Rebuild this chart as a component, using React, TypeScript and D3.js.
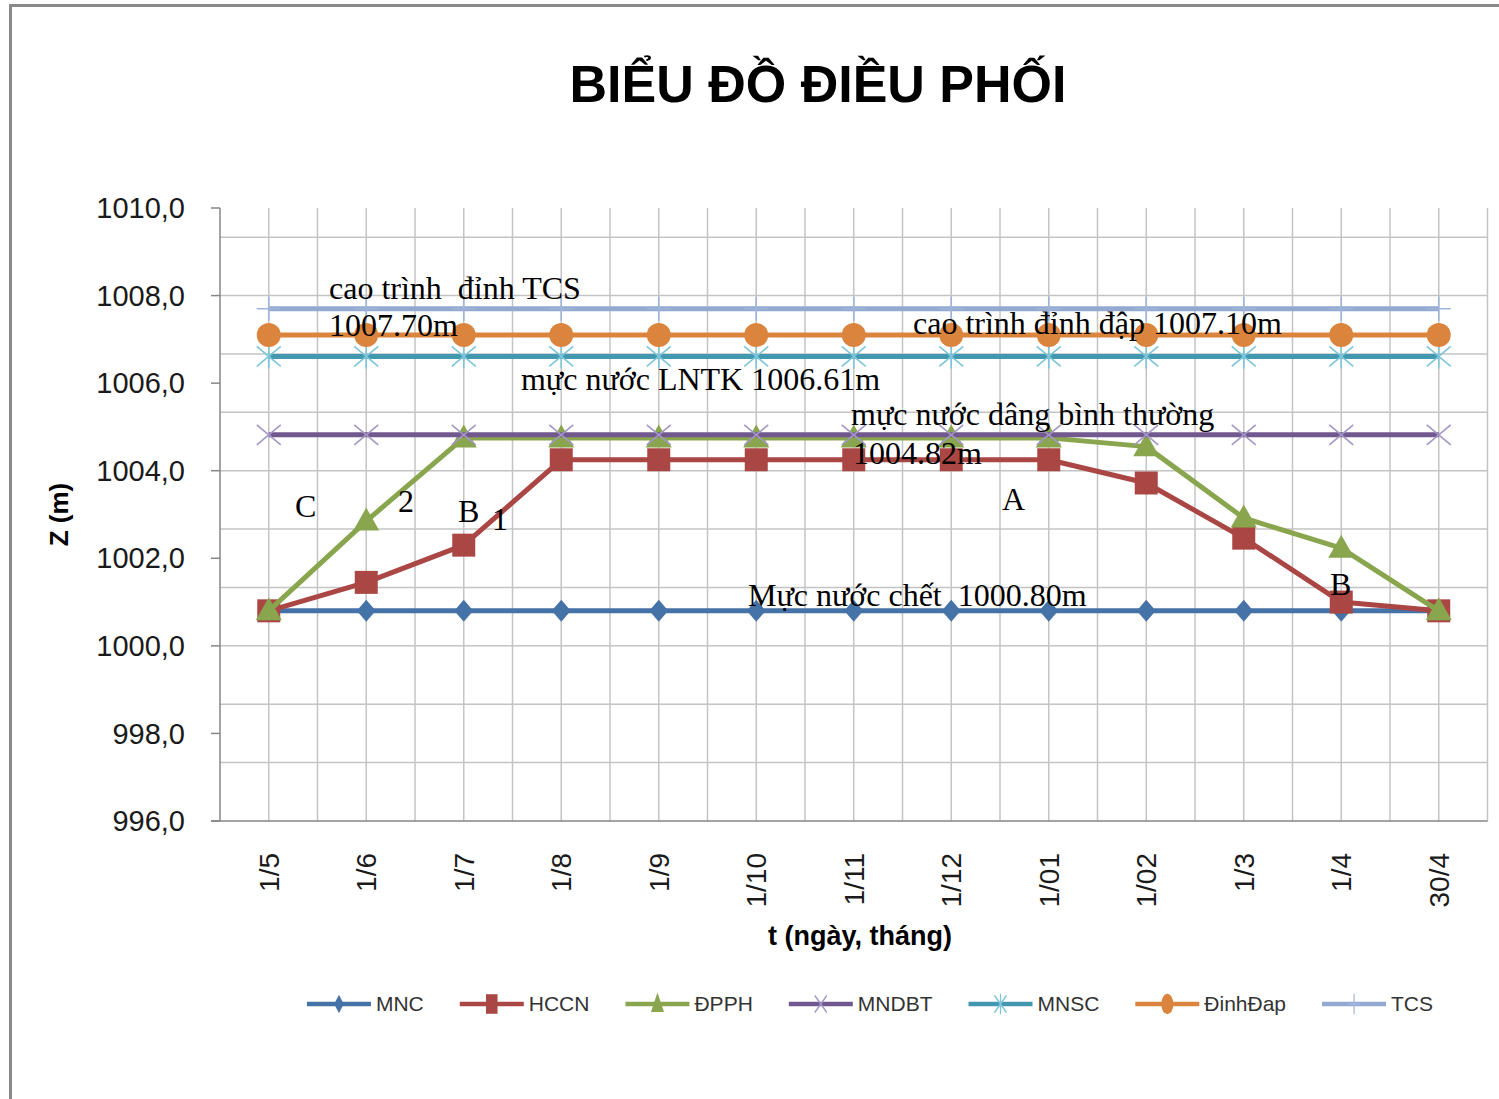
import React, { useEffect, useRef } from 'react';
import * as d3 from 'd3';

const categories = ['1/5', '1/6', '1/7', '1/8', '1/9', '1/10', '1/11', '1/12', '1/01', '1/02', '1/3', '1/4', '30/4'];

const MNC = [1000.8, 1000.8, 1000.8, 1000.8, 1000.8, 1000.8, 1000.8, 1000.8, 1000.8, 1000.8, 1000.8, 1000.8, 1000.8];
const HCCN = [1000.8, 1001.45, 1002.3, 1004.25, 1004.25, 1004.25, 1004.25, 1004.25, 1004.25, 1003.72, 1002.46, 1001.0, 1000.8];
const DPPH = [1000.8, 1002.85, 1004.75, 1004.75, 1004.75, 1004.75, 1004.75, 1004.75, 1004.75, 1004.55, 1002.92, 1002.23, 1000.8];
const MNDBT = [1004.82, 1004.82, 1004.82, 1004.82, 1004.82, 1004.82, 1004.82, 1004.82, 1004.82, 1004.82, 1004.82, 1004.82, 1004.82];
const MNSC = [1006.61, 1006.61, 1006.61, 1006.61, 1006.61, 1006.61, 1006.61, 1006.61, 1006.61, 1006.61, 1006.61, 1006.61, 1006.61];
const DinhDap = [1007.1, 1007.1, 1007.1, 1007.1, 1007.1, 1007.1, 1007.1, 1007.1, 1007.1, 1007.1, 1007.1, 1007.1, 1007.1];
const TCS = [1007.7, 1007.7, 1007.7, 1007.7, 1007.7, 1007.7, 1007.7, 1007.7, 1007.7, 1007.7, 1007.7, 1007.7, 1007.7];

const yTicks = [996, 998, 1000, 1002, 1004, 1006, 1008, 1010];

// text notes placed in data space: [text, category index, value]
const notes: [string, number, number][] = [
  ['cao trình  đỉnh TCS', 0.618, 1007.92],
  ['1007.70m', 0.618, 1007.08],
  ['cao trình đỉnh đập 1007.10m', 6.608, 1007.12],
  ['mực nước LNTK 1006.61m', 2.587, 1005.84],
  ['mực nước dâng bình thường', 5.972, 1005.04],
  ['1004.82m', 5.992, 1004.15],
  ['Mực nước chết  1000.80m', 4.915, 1000.91],
  ['C', 0.269, 1002.94],
  ['2', 1.326, 1003.06],
  ['B', 1.941, 1002.83],
  ['1', 2.29, 1002.65],
  ['A', 7.521, 1003.1],
  ['B', 10.885, 1001.16],
];

type Marker = 'diamond' | 'square' | 'triangle' | 'x' | 'star' | 'circle' | 'plus';

const series: { name: string; values: number[]; color: string; mcolor: string; marker: Marker; width: number }[] = [
  { name: 'MNC', values: MNC, color: '#4572a7', mcolor: '#4572a7', marker: 'diamond', width: 5 },
  { name: 'HCCN', values: HCCN, color: '#aa4643', mcolor: '#aa4643', marker: 'square', width: 5 },
  { name: 'ĐPPH', values: DPPH, color: '#89a54e', mcolor: '#89a54e', marker: 'triangle', width: 5 },
  { name: 'MNDBT', values: MNDBT, color: '#71588f', mcolor: '#a497c6', marker: 'x', width: 5 },
  { name: 'MNSC', values: MNSC, color: '#4198af', mcolor: '#7cc5da', marker: 'star', width: 5 },
  { name: 'ĐinhĐap', values: DinhDap, color: '#db843d', mcolor: '#db843d', marker: 'circle', width: 5 },
  { name: 'TCS', values: TCS, color: '#93a9cf', mcolor: '#9fb4da', marker: 'plus', width: 5 },
];

const markerPath: Record<Marker, string> = {
  diamond: 'M0,-11L9.5,0L0,11L-9.5,0Z',
  square: 'M-11.5,-11.5H11.5V11.5H-11.5Z',
  triangle: 'M0,-13.5L13,9.5L-13,9.5Z',
  circle: 'M12,0A12,12 0 1,1 -12,0A12,12 0 1,1 12,0Z',
  x: 'M-12,-10L12,10M-12,10L12,-10',
  star: 'M-12,-10L12,10M-12,10L12,-10M0,-12L0,12',
  plus: 'M0,-12L0,12M-12,0L12,0',
};
const strokeOnly = (m: Marker) => m === 'x' || m === 'star' || m === 'plus';

export default function App() {
  const ref = useRef<SVGSVGElement>(null);

  useEffect(() => {
    document.body.style.margin = '0';
    const svg = d3.select(ref.current);
    svg.selectAll('*').remove();

    const left = 220, right = 1487.5, top = 208, bottom = 821;
    const x = d3.scaleBand<string>().domain(categories).range([left, right]).padding(0);
    const cx = (i: number) => left + x.bandwidth() * (i + 0.5);
    const y = d3.scaleLinear().domain([996, 1010]).range([bottom, top]);

    // outer frame
    svg.append('path').attr('d', 'M10.5,1099V5.5H1499').attr('fill', 'none').attr('stroke', '#8a8a8a').attr('stroke-width', 3);

    svg.append('text').attr('x', 818).attr('y', 102).attr('text-anchor', 'middle')
      .style('font-family', 'Liberation Sans, Arial, sans-serif').style('font-weight', 'bold').style('font-size', '52px')
      .text('BIỂU ĐỒ ĐIỀU PHỐI');

    // gridlines
    const g = svg.append('g');
    const vLines = d3.range(1, categories.length * 2 + 1).map(k => left + (x.bandwidth() / 2) * k);
    g.selectAll('line.v').data(vLines).enter().append('line')
      .attr('x1', d => d).attr('x2', d => d).attr('y1', top).attr('y2', bottom)
      .attr('stroke', '#c4c4c4').attr('stroke-width', 1.5);
    const hLines = d3.range(1, 11).map(k => 996 + (k * 4) / 3);
    g.selectAll('line.h').data(hLines).enter().append('line')
      .attr('x1', left).attr('x2', right).attr('y1', d => y(d)).attr('y2', d => y(d))
      .attr('stroke', '#c4c4c4').attr('stroke-width', 1.5);

    // axes
    const ax = svg.append('g').attr('stroke', '#868686').attr('stroke-width', 1.5);
    ax.append('line').attr('x1', left).attr('x2', left).attr('y1', top).attr('y2', bottom);
    ax.append('line').attr('x1', left - 9).attr('x2', right).attr('y1', bottom).attr('y2', bottom);
    ax.selectAll('line.t').data(yTicks).enter().append('line')
      .attr('x1', left - 9).attr('x2', left).attr('y1', d => y(d)).attr('y2', d => y(d));

    svg.selectAll('text.yl').data(yTicks).enter().append('text')
      .attr('x', 185).attr('y', d => y(d)).attr('dy', '0.35em').attr('text-anchor', 'end')
      .style('font-family', 'Liberation Sans, Arial, sans-serif').style('font-size', '29px').attr('fill', '#1a1a1a')
      .text(d => d3.format('.1f')(d).replace('.', ','));

    svg.selectAll('text.xl').data(categories).enter().append('text')
      .attr('transform', d => `translate(${(x(d) as number) + x.bandwidth() / 2},853) rotate(-90)`)
      .attr('dy', '0.35em').attr('text-anchor', 'end')
      .style('font-family', 'Liberation Sans, Arial, sans-serif').style('font-size', '28px').attr('fill', '#1a1a1a')
      .text(d => d);

    svg.append('text').attr('x', 860).attr('y', 945).attr('text-anchor', 'middle')
      .style('font-family', 'Liberation Sans, Arial, sans-serif').style('font-weight', 'bold').style('font-size', '27px')
      .text('t (ngày, tháng)');
    svg.append('text').attr('transform', `translate(68,${(top + bottom) / 2}) rotate(-90)`).attr('text-anchor', 'middle')
      .style('font-family', 'Liberation Sans, Arial, sans-serif').style('font-weight', 'bold').style('font-size', '26px')
      .text('Z (m)');

    // series
    const line = d3.line<number>().x((_, i) => cx(i)).y(d => y(d));
    series.forEach(s => {
      const sg = svg.append('g');
      sg.append('path').attr('d', line(s.values)).attr('fill', 'none')
        .attr('stroke', s.color).attr('stroke-width', s.width).attr('stroke-linejoin', 'round');
      sg.selectAll('path.m').data(s.values).enter().append('path')
        .attr('transform', (d, i) => `translate(${cx(i)},${y(d)})`)
        .attr('d', markerPath[s.marker])
        .attr('fill', strokeOnly(s.marker) ? 'none' : s.mcolor)
        .attr('stroke', s.mcolor).attr('stroke-width', strokeOnly(s.marker) ? 1.6 : 0);
    });

    // notes
    svg.selectAll('text.note').data(notes).enter().append('text')
      .attr('x', d => cx(d[1])).attr('y', d => y(d[2]))
      .style('font-family', 'Liberation Serif, Times New Roman, serif').style('font-size', '32px')
      .style('white-space', 'pre').attr('fill', '#000')
      .text(d => d[0]);

    // legend
    const leg = svg.append('g');
    const items = leg.selectAll('g.it').data(series).enter().append('g');
    items.append('line').attr('x1', 0).attr('x2', 64).attr('y1', 0).attr('y2', 0)
      .attr('stroke', d => d.color).attr('stroke-width', 4.5);
    items.append('path').attr('d', d => markerPath[d.marker])
      .attr('transform', 'translate(32,0) scale(0.5,0.85)')
      .attr('fill', d => (strokeOnly(d.marker) ? 'none' : d.mcolor))
      .attr('stroke', d => d.mcolor).attr('stroke-width', d => (strokeOnly(d.marker) ? 2.4 : 0));
    const labels = items.append('text').attr('x', 69).attr('dy', '0.35em')
      .style('font-family', 'Liberation Sans, Arial, sans-serif').style('font-size', '21px').attr('fill', '#333')
      .text(d => d.name);
    const widths = (labels.nodes() as SVGTextElement[]).map(n => 69 + n.getComputedTextLength());
    const gap = 36;
    const total = d3.sum(widths) + gap * (widths.length - 1);
    let pos = 870 - total / 2;
    items.each(function (_, i) {
      d3.select(this).attr('transform', `translate(${pos},1004)`);
      pos += widths[i] + gap;
    });
  }, []);

  return <svg ref={ref} width={1499} height={1099} style={{ display: 'block', background: '#fff' }} />;
}
